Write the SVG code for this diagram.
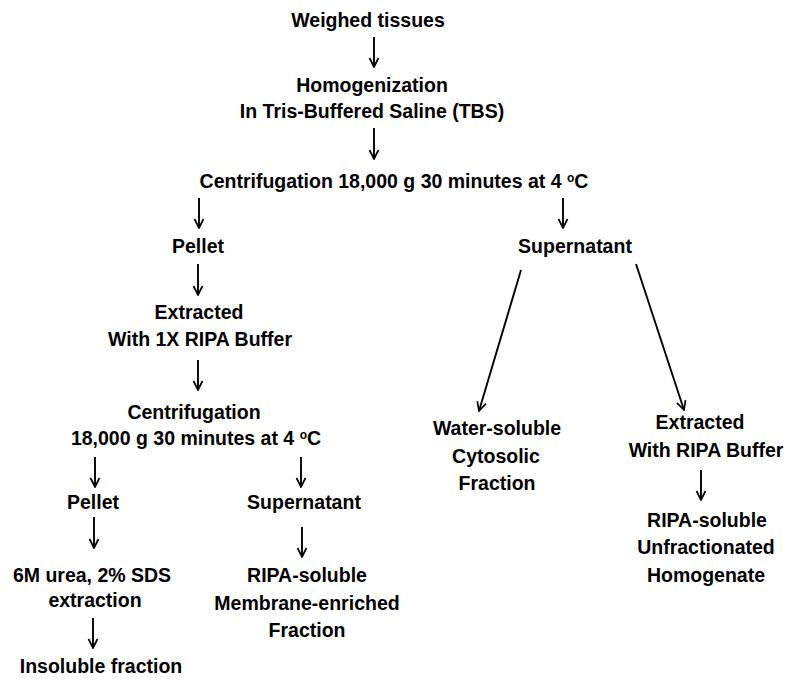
<svg xmlns="http://www.w3.org/2000/svg" width="800" height="693" viewBox="0 0 800 693">
<defs>
<marker id="ah" viewBox="0 0 12 12" refX="11" refY="6" markerWidth="12" markerHeight="12" markerUnits="userSpaceOnUse" orient="auto">
<path d="M2,1.5 L11,6 L2,10.5" fill="none" stroke="#000" stroke-width="1.7"/>
</marker>
<style>
text{font-family:"Liberation Sans",Arial,sans-serif;font-weight:bold;font-size:19.5px;fill:#000;text-anchor:middle}
.sup{font-size:12px}
#connectors line{stroke:#000;stroke-width:1.9;marker-end:url(#ah)}
</style>
</defs>
<rect width="800" height="693" fill="#fff"/>
<g id="connectors">
<line x1="374" y1="37" x2="374" y2="67"/>
<line x1="374" y1="128" x2="374" y2="159"/>
<line x1="199" y1="198" x2="199" y2="228"/>
<line x1="563" y1="198" x2="563" y2="228"/>
<line x1="198" y1="264" x2="198" y2="295"/>
<line x1="198" y1="360" x2="198" y2="390"/>
<line x1="521" y1="270" x2="479" y2="411"/>
<line x1="636" y1="264" x2="684" y2="410"/>
<line x1="95" y1="457" x2="95" y2="487"/>
<line x1="301" y1="457" x2="301" y2="487"/>
<line x1="94" y1="517" x2="94" y2="548"/>
<line x1="302" y1="527" x2="302" y2="557"/>
<line x1="93" y1="618" x2="93" y2="648"/>
<line x1="701" y1="470" x2="701" y2="500"/>
</g>
<g id="weighed"><text x="368" y="27">Weighed tissues</text></g>
<g id="homogenization"><text x="372" y="92">Homogenization</text><text x="372" y="118">In Tris-Buffered Saline (TBS)</text></g>
<g id="centrifugation1"><text x="394" y="188">Centrifugation 18,000 g 30 minutes at 4 <tspan class="sup" dy="-6">o</tspan><tspan dy="6">C</tspan></text></g>
<g id="pellet1"><text x="198" y="253">Pellet</text></g>
<g id="supernatant1"><text x="575" y="253">Supernatant</text></g>
<g id="extracted1"><text x="199" y="319">Extracted</text><text x="200" y="346">With 1X RIPA Buffer</text></g>
<g id="centrifugation2"><text x="194" y="419">Centrifugation</text><text x="196" y="445">18,000 g 30 minutes at 4 <tspan class="sup" dy="-6">o</tspan><tspan dy="6">C</tspan></text></g>
<g id="watersoluble"><text x="497" y="435">Water-soluble</text><text x="496" y="463">Cytosolic</text><text x="497" y="490">Fraction</text></g>
<g id="extracted2"><text x="700" y="429">Extracted</text><text x="706" y="457">With RIPA Buffer</text></g>
<g id="pellet2"><text x="93" y="509">Pellet</text></g>
<g id="supernatant2"><text x="304" y="509">Supernatant</text></g>
<g id="urea"><text x="92" y="582">6M urea, 2% SDS</text><text x="95" y="607">extraction</text></g>
<g id="insoluble"><text x="101" y="673">Insoluble fraction</text></g>
<g id="membrane"><text x="307" y="582">RIPA-soluble</text><text x="307" y="610">Membrane-enriched</text><text x="307" y="637">Fraction</text></g>
<g id="unfractionated"><text x="707" y="527">RIPA-soluble</text><text x="706" y="554">Unfractionated</text><text x="706" y="582">Homogenate</text></g>
</svg>
